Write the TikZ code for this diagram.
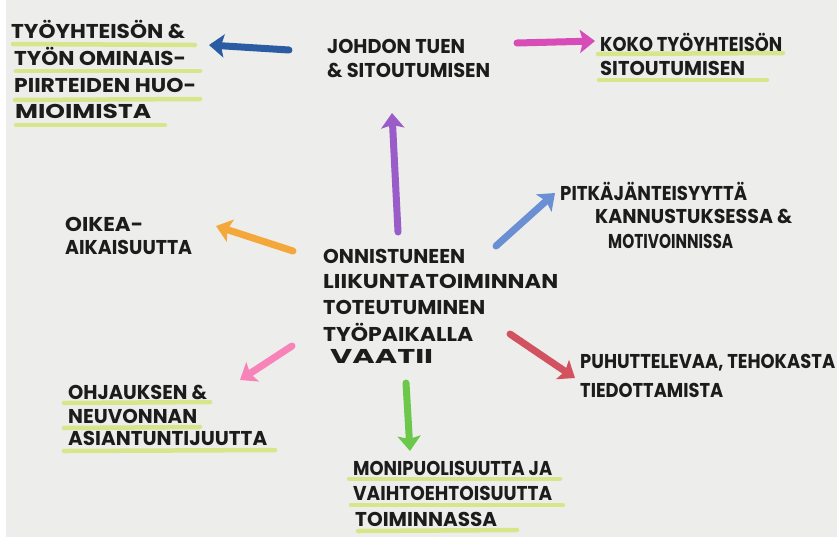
\documentclass[tikz,border=0pt]{standalone}
\usepackage{fontspec}
\setmainfont{Poppins}
\usepackage{graphicx}
\usetikzlibrary{arrows.meta}
\definecolor{paper}{HTML}{EDEDEB}
\definecolor{ink}{HTML}{1C1C1C}
\definecolor{hl}{HTML}{D5E47A}
\definecolor{cblue}{HTML}{2B5CA3}
\definecolor{cmag}{HTML}{D84CB8}
\definecolor{cpurp}{HTML}{9A5CC8}
\definecolor{corange}{HTML}{F4A83C}
\definecolor{clblue}{HTML}{6A8FD2}
\definecolor{cred}{HTML}{D3525F}
\definecolor{cpink}{HTML}{F783B8}
\definecolor{cgreen}{HTML}{6CC84A}
\newcommand\fw[2]{\resizebox{#1pt}{\height}{#2}}
\tikzset{
  txt/.style={anchor=base west,inner sep=0pt,text=ink,font=\bfseries\fontsize{20}{20}\selectfont},
  hline/.style={hl,line width=4.5pt,line cap=round,opacity=0.85},
  marker/.style={line width=7pt,line cap=round,-{Stealth[length=15pt,width=23pt,inset=3pt]}}
}
\begin{document}
\begin{tikzpicture}[x=1pt,y=-1pt]
\useasboundingbox (0,0) rectangle (837,542);
\fill[white] (0,0) rectangle (837,542);
\fill[paper] (6,0) rectangle (837,537);
% highlights
\draw[hline] (13,44) -- (195,45);
\draw[hline] (16,71) -- (200,71);
\draw[hline] (15,100) -- (200,99);
\draw[hline] (16,125) -- (165,125);
\draw[hline] (598,54) -- (783,53);
\draw[hline] (599,80) -- (767,80);
\draw[hline] (64,403) -- (210,402);
\draw[hline] (64,428) -- (200,427);
\draw[hline] (64,451) -- (275,450);
\draw[hline] (349,479) -- (560,479);
\draw[hline] (351,505) -- (563,505);
\draw[hline] (358,531) -- (517,530);
% texts
\node[txt] (tl1) at (11,38) {\fw{174}{TYÖYHTEISÖN \&}};
\node[txt] (tl2) at (14,65) {\fw{172}{TYÖN OMINAIS-}};
\node[txt] (tl3) at (14,92) {\fw{182}{PIIRTEIDEN HUO-}};
\node[txt] (tl4) at (15,118) {\fw{136}{MIOIMISTA}};
\node[txt] (jt1) at (327,53) {\fw{138}{JOHDON TUEN}};
\node[txt] (jt2) at (327,77) {\fw{163}{\& SITOUTUMISEN}};
\node[txt] (kk1) at (600,51) {\fw{182}{KOKO TYÖYHTEISÖN}};
\node[txt] (kk2) at (600,75) {\fw{145}{SITOUTUMISEN}};
\node[txt] (oa1) at (65,231) {\fw{78}{OIKEA-}};
\node[txt] (oa2) at (65,254) {\fw{127}{AIKAISUUTTA}};
\node[txt] (c1) at (323,263) {\fw{142}{ONNISTUNEEN}};
\node[txt] (c2) at (323,288) {\fw{235}{LIIKUNTATOIMINNAN}};
\node[txt] (c3) at (323,314) {\fw{162}{TOTEUTUMINEN}};
\node[txt] (c4) at (323,341) {\fw{150}{TYÖPAIKALLA}};
\node[txt] (c5) at (330,363) {\fw{103}{VAATII}};
\node[txt] (pj1) at (560,200) {\fw{187}{PITKÄJÄNTEISYYTTÄ}};
\node[txt] (pj2) at (595,223) {\fw{197}{KANNUSTUKSESSA \&}};
\node[txt] (pj3) at (608,248) {\fw{125}{MOTIVOINNISSA}};
\node[txt] (pu1) at (580,368) {\fw{255}{PUHUTTELEVAA, TEHOKASTA}};
\node[txt] (pu2) at (580,397) {\fw{143}{TIEDOTTAMISTA}};
\node[txt] (oh1) at (68,399) {\fw{139}{OHJAUKSEN \&}};
\node[txt] (oh2) at (68,423) {\fw{129}{NEUVONNAN}};
\node[txt] (oh3) at (68,445) {\fw{199}{ASIANTUNTIJUUTTA}};
\node[txt] (mp1) at (353,475) {\fw{199}{MONIPUOLISUUTTA JA}};
\node[txt] (mp2) at (353,500) {\fw{199}{VAIHTOEHTOISUUTTA}};
\node[txt] (mp3) at (355,526) {\fw{142}{TOIMINNASSA}};
% arrow ends
\coordinate (bA) at (289,50); \coordinate (bB) at (209,45);
\coordinate (mA) at (517,43); \coordinate (mB) at (595,41);
\coordinate (pA) at (398,232); \coordinate (pB) at (392,113);
\coordinate (oA) at (293,251); \coordinate (oB) at (216,226);
\coordinate (lA) at (496,246); \coordinate (lB) at (555,193);
\coordinate (rA) at (510,334); \coordinate (rB) at (575,378);
\coordinate (kA) at (292,346); \coordinate (kB) at (240,380);
\coordinate (gA) at (406,383); \coordinate (gB) at (410,451);
\draw[marker,cblue] (bA) -- (bB);
\draw[marker,cmag] (mA) -- (mB);
\draw[marker,cpurp] (pA) -- (pB);
\draw[marker,corange] (oA) -- (oB);
\draw[marker,clblue] (lA) -- (lB);
\draw[marker,cred] (rA) -- (rB);
\draw[marker,cpink] (kA) -- (kB);
\draw[marker,cgreen] (gA) -- (gB);
\end{tikzpicture}
\end{document}
